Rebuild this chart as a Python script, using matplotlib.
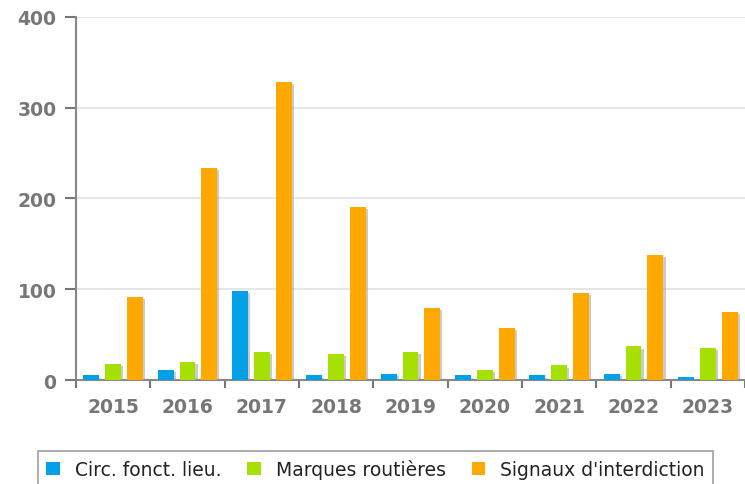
import matplotlib
matplotlib.use("Agg")
import matplotlib.pyplot as plt
import matplotlib.patheffects as pe
from matplotlib.patches import Patch
import numpy as np

years = ["2015", "2016", "2017", "2018", "2019", "2020", "2021", "2022", "2023"]
circ = [5, 11, 98, 5, 7, 5, 5, 7, 3]
marques = [18, 20, 31, 29, 31, 11, 16, 37, 35]
signaux = [92, 234, 328, 191, 79, 57, 96, 138, 75]
series_names = ["Circ. fonct. lieu.", "Marques routières", "Signaux d'interdiction"]
colors = ["#009fe6", "#a6e000", "#ffa800"]

fig = plt.figure(figsize=(7.45, 4.85), dpi=100)
ax = fig.add_axes([0.102, 0.2144, 0.898, 0.7486])

x = np.arange(len(years))
offsets = [-0.295, 0.0, 0.295]
w = 0.215
shadow = [pe.SimplePatchShadow(offset=(1.5, -1.5), shadow_rgbFace="#999999", alpha=0.5), pe.Normal()]
for vals, off, col, name in zip([circ, marques, signaux], offsets, colors, series_names):
    b = ax.bar(x + off, vals, width=w, color=col, label=name, zorder=3)
    for p in b:
        p.set_path_effects(shadow)

ax.set_xlim(-0.5, len(years) - 0.5)
ax.set_ylim(0, 400)
ax.set_yticks([0, 100, 200, 300, 400])
ax.set_xticks(x)
ax.set_xticklabels(years)
ax.set_xticks(np.arange(-0.5, len(years), 1.0), minor=True)
ax.tick_params(axis="x", which="major", length=0, pad=12, labelsize=13.5, labelcolor="#777777")
ax.tick_params(axis="x", which="minor", length=6, width=1.5, color="#777777", direction="out")
ax.tick_params(axis="y", length=8, width=1.5, color="#777777", labelsize=13.5, labelcolor="#777777", pad=6)
for lbl in ax.get_xticklabels() + ax.get_yticklabels():
    lbl.set_fontweight("bold")

ax.grid(axis="y", color="#e6e6e6", linewidth=1.5, zorder=0)
ax.set_axisbelow(True)
for s in ["top", "right"]:
    ax.spines[s].set_visible(False)
ax.spines["left"].set_color("#888888")
ax.spines["left"].set_linewidth(1.5)
ax.spines["bottom"].set_color("#888888")
ax.spines["bottom"].set_linewidth(1.5)

handles = [Patch(facecolor=c, edgecolor="none") for c in colors]
leg = fig.legend(handles=handles, labels=series_names, loc="upper left",
                 bbox_to_anchor=(38 / 745, 1 - 452 / 485, 675 / 745, 0.0),
                 mode="expand", borderaxespad=0.0, ncol=3, frameon=True, fancybox=False,
                 fontsize=13.5, handlelength=0.7, handleheight=0.7, handletextpad=0.8,
                 columnspacing=0.8, borderpad=0.45, edgecolor="#888888")
leg.get_frame().set_linewidth(1.2)
for t in leg.get_texts():
    t.set_color("#222222")

fig.savefig("out.png", dpi=100)
